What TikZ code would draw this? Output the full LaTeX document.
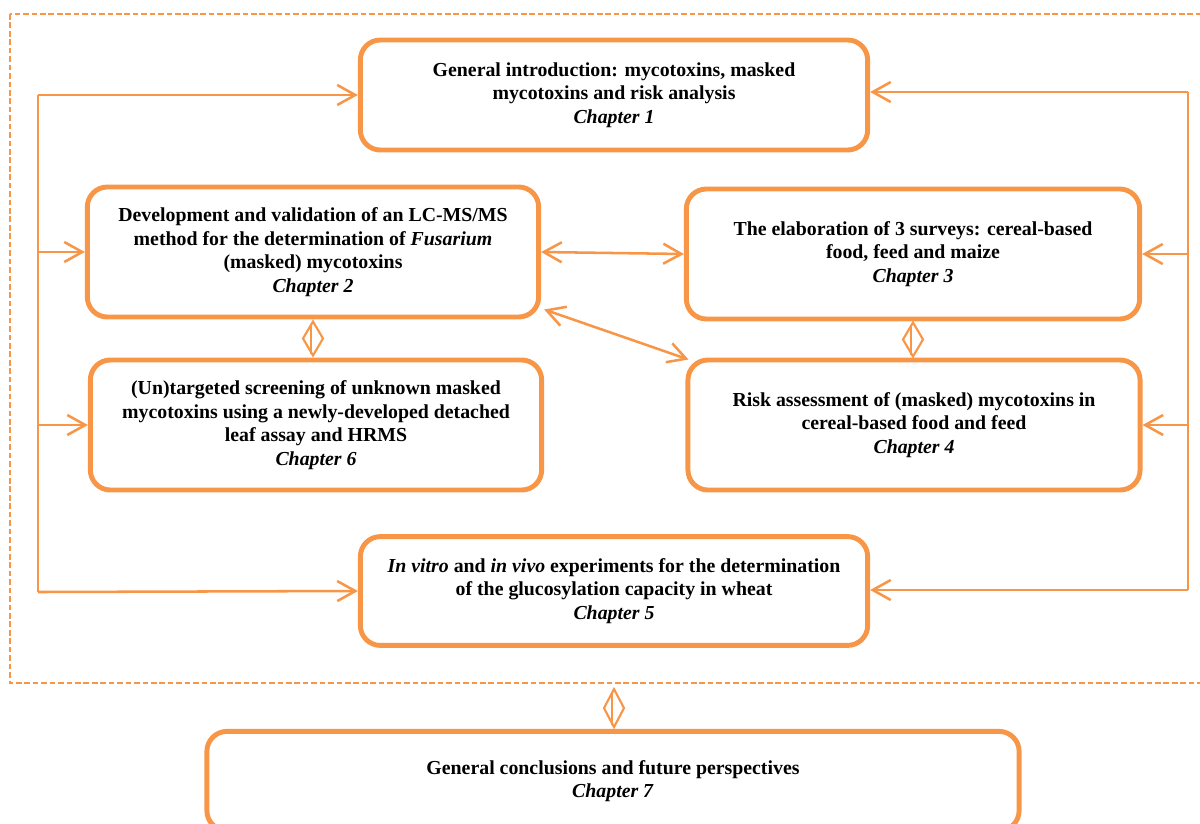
\documentclass[tikz,border=0pt]{standalone}
\usepackage{fontspec}
\setmainfont{Liberation Serif}
\usetikzlibrary{arrows.meta}
\definecolor{chorange}{RGB}{247,150,70}

\tikzset{
  chbox/.style={draw=chorange, line width=3.5pt, rounded corners=0.5cm,
    align=center, inner sep=0pt, font=\fontsize{14.1}{16.8}\selectfont\bfseries},
  link/.style={draw=chorange, line width=1.8pt},
  feed/.style={link, -{Straight Barb[length=0.45cm, width=0.5cm]}},
  twoway/.style={link, {Straight Barb[length=0.45cm, width=0.5cm]}-{Straight Barb[length=0.45cm, width=0.5cm]}},
  pairline/.style={draw=chorange, line width=1.5pt, line join=miter}
}

\begin{document}
\begin{tikzpicture}[x=0.025cm, y=-0.025cm]

\useasboundingbox (0,0) rectangle (1200,823);
\clip (0,0) rectangle (1200,823);

% Frame
\draw[chorange, line width=1pt, dash pattern=on 4pt off 2pt] (10,14) rectangle (1215,683);
\coordinate (fb) at (614,683);

% Chapters
\node[chbox, minimum width=12.68cm, minimum height=2.75cm] (ch1) at (614,95)
  {General introduction: mycotoxins, masked\\ mycotoxins and risk analysis\\ \textit{Chapter 1}};

\node[chbox, minimum width=11.28cm, minimum height=3.25cm] (ch2) at (313,252)
  {Development and validation of an LC-MS/MS\\ method for the determination of \textit{Fusarium}\\ (masked) mycotoxins\\ \textit{Chapter 2}};

\node[chbox, minimum width=11.33cm, minimum height=3.25cm] (ch3) at (913,254)
  {The elaboration of 3 surveys: cereal-based\\ food, feed and maize\\ \textit{Chapter 3}};

\node[chbox, minimum width=11.28cm, minimum height=3.25cm] (ch6) at (316,425)
  {(Un)targeted screening of unknown masked\\ mycotoxins using a newly-developed detached\\ leaf assay and HRMS\\ \textit{Chapter 6}};

\node[chbox, minimum width=11.3cm, minimum height=3.25cm] (ch4) at (914,425)
  {Risk assessment of (masked) mycotoxins in\\ cereal-based food and feed\\ \textit{Chapter 4}};

\node[chbox, minimum width=12.68cm, minimum height=2.72cm] (ch5) at (614,591)
  {\textit{In vitro} and \textit{in vivo} experiments for the determination\\ of the glucosylation capacity in wheat\\ \textit{Chapter 5}};

\node[chbox, minimum width=20.3cm, minimum height=2.48cm] (ch7) at (613,781)
  {General conclusions and future perspectives\\ \textit{Chapter 7}};

% Left bus
\coordinate (lt) at (38,95);
\coordinate (lb) at (38,592);
\draw[link] (lt) -- (lb);
\draw[feed] (lt) -- (ch1.west);
\draw[feed] (lt |- ch2.west) -- (ch2.west);
\draw[feed] (lt |- ch6.west) -- (ch6.west);
\draw[feed] (lb) -- (ch5.west);

% Right bus
\coordinate (rt) at (1188,92);
\coordinate (rb) at (1188,590);
\draw[link] (rt) -- (rb);
\draw[feed] (rt) -- (rt -| ch1.east);
\draw[feed] (rt |- ch3.east) -- (ch3.east);
\draw[feed] (rt |- ch4.east) -- (ch4.east);
\draw[feed] (rb) -- (rb -| ch5.east);

% Links between chapters
\draw[twoway] (ch2.east) -- (ch3.west);
\draw[twoway] ([shift={(3,-10)}]ch2.south east) -- ([shift={(3,2)}]ch4.north west);

% Double arrows (diamonds)
\path (ch2.south) -- (ch2.south |- ch6.north) coordinate[pos=0.5] (d26);
\path (ch3.south) -- (ch3.south |- ch4.north) coordinate[pos=0.5] (d34);
\path (fb) -- (fb |- ch7.north) coordinate[pos=0.5] (d57);

\draw[pairline] (d26) +(0,-17) -- +(10,0) -- +(0,17) -- +(-10,0) -- cycle;
\draw[pairline] (d26) +(-2,-13) -- +(-2,15);
\draw[pairline] (d34) +(0,-17) -- +(10,0) -- +(0,17) -- +(-10,0) -- cycle;
\draw[pairline] (d34) +(-2,-13) -- +(-2,15);
\draw[pairline] ([yshift=-1.5] d57) +(0,-19) -- +(10,0) -- +(0,19) -- +(-10,0) -- cycle;
\draw[pairline] ([yshift=-1.5] d57) +(-2,-15) -- +(-2,17);

\end{tikzpicture}
\end{document}
